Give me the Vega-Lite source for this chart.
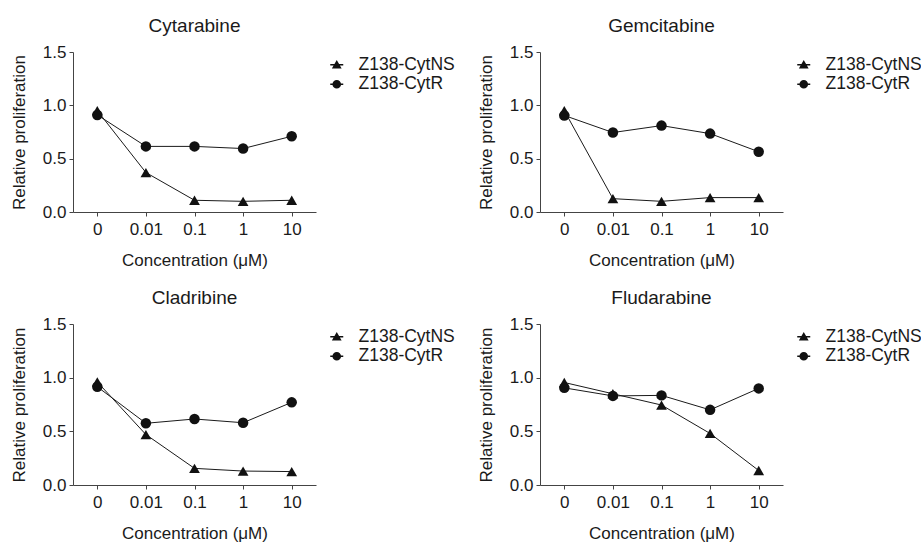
{
  "$schema": "https://vega.github.io/schema/vega-lite/v6.json",
  "padding": {"left": 10, "top": 17, "right": 5, "bottom": 2},
  "background": "white",
  "config": {
    "font": "Liberation Sans",
    "view": {"stroke": null},
    "axis": {
      "labelFont": "Liberation Sans",
      "titleFont": "Liberation Sans",
      "labelFontSize": 17,
      "titleFontSize": 17,
      "titleFontWeight": "normal",
      "labelColor": "#1a1a1a",
      "titleColor": "#1a1a1a",
      "domainColor": "#444444",
      "tickColor": "#444444",
      "tickSize": 4,
      "grid": false
    },
    "legend": {"labelFont": "Liberation Sans", "labelFontSize": 17.5, "labelColor": "#1a1a1a"},
    "title": {"font": "Liberation Sans", "fontSize": 19, "fontWeight": "normal", "color": "#1a1a1a"}
  },
  "data": {"values": [
    {"drug": "Cytarabine", "series": "Z138-CytNS", "conc": "0", "value": 0.95},
    {"drug": "Cytarabine", "series": "Z138-CytNS", "conc": "0.01", "value": 0.37},
    {"drug": "Cytarabine", "series": "Z138-CytNS", "conc": "0.1", "value": 0.11},
    {"drug": "Cytarabine", "series": "Z138-CytNS", "conc": "1", "value": 0.10},
    {"drug": "Cytarabine", "series": "Z138-CytNS", "conc": "10", "value": 0.11},
    {"drug": "Cytarabine", "series": "Z138-CytR", "conc": "0", "value": 0.91},
    {"drug": "Cytarabine", "series": "Z138-CytR", "conc": "0.01", "value": 0.615},
    {"drug": "Cytarabine", "series": "Z138-CytR", "conc": "0.1", "value": 0.615},
    {"drug": "Cytarabine", "series": "Z138-CytR", "conc": "1", "value": 0.595},
    {"drug": "Cytarabine", "series": "Z138-CytR", "conc": "10", "value": 0.71},
    {"drug": "Gemcitabine", "series": "Z138-CytNS", "conc": "0", "value": 0.95},
    {"drug": "Gemcitabine", "series": "Z138-CytNS", "conc": "0.01", "value": 0.125},
    {"drug": "Gemcitabine", "series": "Z138-CytNS", "conc": "0.1", "value": 0.10},
    {"drug": "Gemcitabine", "series": "Z138-CytNS", "conc": "1", "value": 0.135},
    {"drug": "Gemcitabine", "series": "Z138-CytNS", "conc": "10", "value": 0.135},
    {"drug": "Gemcitabine", "series": "Z138-CytR", "conc": "0", "value": 0.905},
    {"drug": "Gemcitabine", "series": "Z138-CytR", "conc": "0.01", "value": 0.745},
    {"drug": "Gemcitabine", "series": "Z138-CytR", "conc": "0.1", "value": 0.81},
    {"drug": "Gemcitabine", "series": "Z138-CytR", "conc": "1", "value": 0.735},
    {"drug": "Gemcitabine", "series": "Z138-CytR", "conc": "10", "value": 0.565},
    {"drug": "Cladribine", "series": "Z138-CytNS", "conc": "0", "value": 0.96},
    {"drug": "Cladribine", "series": "Z138-CytNS", "conc": "0.01", "value": 0.47},
    {"drug": "Cladribine", "series": "Z138-CytNS", "conc": "0.1", "value": 0.155},
    {"drug": "Cladribine", "series": "Z138-CytNS", "conc": "1", "value": 0.13},
    {"drug": "Cladribine", "series": "Z138-CytNS", "conc": "10", "value": 0.125},
    {"drug": "Cladribine", "series": "Z138-CytR", "conc": "0", "value": 0.915},
    {"drug": "Cladribine", "series": "Z138-CytR", "conc": "0.01", "value": 0.575},
    {"drug": "Cladribine", "series": "Z138-CytR", "conc": "0.1", "value": 0.615},
    {"drug": "Cladribine", "series": "Z138-CytR", "conc": "1", "value": 0.58},
    {"drug": "Cladribine", "series": "Z138-CytR", "conc": "10", "value": 0.77},
    {"drug": "Fludarabine", "series": "Z138-CytNS", "conc": "0", "value": 0.955},
    {"drug": "Fludarabine", "series": "Z138-CytNS", "conc": "0.01", "value": 0.85},
    {"drug": "Fludarabine", "series": "Z138-CytNS", "conc": "0.1", "value": 0.745},
    {"drug": "Fludarabine", "series": "Z138-CytNS", "conc": "1", "value": 0.48},
    {"drug": "Fludarabine", "series": "Z138-CytNS", "conc": "10", "value": 0.135},
    {"drug": "Fludarabine", "series": "Z138-CytR", "conc": "0", "value": 0.905},
    {"drug": "Fludarabine", "series": "Z138-CytR", "conc": "0.01", "value": 0.83},
    {"drug": "Fludarabine", "series": "Z138-CytR", "conc": "0.1", "value": 0.835},
    {"drug": "Fludarabine", "series": "Z138-CytR", "conc": "1", "value": 0.70},
    {"drug": "Fludarabine", "series": "Z138-CytR", "conc": "10", "value": 0.90}
  ]},
  "columns": 2,
  "spacing": {"row": 112, "column": 224},
  "bounds": "flush",
  "resolve": {"scale": {"shape": "independent"}, "legend": {"shape": "independent"}},
  "concat": [
    {
      "width": 243, "height": 160,
      "title": {"text": "Cytarabine", "baseline": "alphabetic", "offset": -8},
      "transform": [{"filter": "datum.drug == 'Cytarabine'"}],
      "encoding": {
        "x": {"field": "conc", "type": "ordinal", "sort": ["0", "0.01", "0.1", "1", "10"], "scale": {"type": "point", "padding": 0.5}, "axis": {"labelAngle": 0, "labelPadding": 5, "titlePadding": 15}, "title": "Concentration (μM)"},
        "y": {"field": "value", "type": "quantitative", "scale": {"domain": [0, 1.5], "nice": false}, "axis": {"values": [0, 0.5, 1, 1.5], "format": ".1f", "labelPadding": 3, "titlePadding": 14}, "title": "Relative proliferation"}
      },
      "layer": [
        {"mark": {"type": "line", "color": "#1a1a1a", "strokeWidth": 1}, "encoding": {"detail": {"field": "series"}}},
        {"transform": [{"filter": "datum.series == 'Z138-CytNS'"}], "mark": {"type": "point", "shape": "triangle-up", "filled": true, "size": 115, "opacity": 1, "color": "#111111"}},
        {"transform": [{"filter": "datum.series == 'Z138-CytR'"}], "mark": {"type": "point", "shape": "circle", "filled": true, "size": 110, "opacity": 1, "color": "#111111"}},
        {"mark": {"type": "point", "filled": true, "size": 110, "opacity": 0, "color": "#111111", "stroke": "#111111", "strokeWidth": 1.2},
         "encoding": {"shape": {"field": "series", "type": "nominal", "scale": {"domain": ["Z138-CytNS", "Z138-CytR"], "range": ["M-1,0H1M-0.55,0.45L0.55,0.45L0,-0.5Z", "M-1,0H1M0.55,0A0.55,0.55 0 1,1 -0.55,0A0.55,0.55 0 1,1 0.55,0Z"]},
           "legend": {"title": null, "orient": "none", "legendX": 255, "legendY": 4, "symbolSize": 169, "labelOffset": 13, "rowPadding": 0.5,
             "encode": {"symbols": {"update": {"stroke": {"value": "#111111"}, "strokeWidth": {"value": 1.2}, "fill": {"value": "#111111"}, "opacity": {"value": 1}}}}}}}}
      ]
    },
    {
      "width": 243, "height": 160,
      "title": {"text": "Gemcitabine", "baseline": "alphabetic", "offset": -8},
      "transform": [{"filter": "datum.drug == 'Gemcitabine'"}],
      "encoding": {
        "x": {"field": "conc", "type": "ordinal", "sort": ["0", "0.01", "0.1", "1", "10"], "scale": {"type": "point", "padding": 0.5}, "axis": {"labelAngle": 0, "labelPadding": 5, "titlePadding": 15}, "title": "Concentration (μM)"},
        "y": {"field": "value", "type": "quantitative", "scale": {"domain": [0, 1.5], "nice": false}, "axis": {"values": [0, 0.5, 1, 1.5], "format": ".1f", "labelPadding": 3, "titlePadding": 14}, "title": "Relative proliferation"}
      },
      "layer": [
        {"mark": {"type": "line", "color": "#1a1a1a", "strokeWidth": 1}, "encoding": {"detail": {"field": "series"}}},
        {"transform": [{"filter": "datum.series == 'Z138-CytNS'"}], "mark": {"type": "point", "shape": "triangle-up", "filled": true, "size": 115, "opacity": 1, "color": "#111111"}},
        {"transform": [{"filter": "datum.series == 'Z138-CytR'"}], "mark": {"type": "point", "shape": "circle", "filled": true, "size": 110, "opacity": 1, "color": "#111111"}},
        {"mark": {"type": "point", "filled": true, "size": 110, "opacity": 0, "color": "#111111", "stroke": "#111111", "strokeWidth": 1.2},
         "encoding": {"shape": {"field": "series", "type": "nominal", "scale": {"domain": ["Z138-CytNS", "Z138-CytR"], "range": ["M-1,0H1M-0.55,0.45L0.55,0.45L0,-0.5Z", "M-1,0H1M0.55,0A0.55,0.55 0 1,1 -0.55,0A0.55,0.55 0 1,1 0.55,0Z"]},
           "legend": {"title": null, "orient": "none", "legendX": 255, "legendY": 4, "symbolSize": 169, "labelOffset": 13, "rowPadding": 0.5,
             "encode": {"symbols": {"update": {"stroke": {"value": "#111111"}, "strokeWidth": {"value": 1.2}, "fill": {"value": "#111111"}, "opacity": {"value": 1}}}}}}}}
      ]
    },
    {
      "width": 243, "height": 161,
      "title": {"text": "Cladribine", "baseline": "alphabetic", "offset": -8},
      "transform": [{"filter": "datum.drug == 'Cladribine'"}],
      "encoding": {
        "x": {"field": "conc", "type": "ordinal", "sort": ["0", "0.01", "0.1", "1", "10"], "scale": {"type": "point", "padding": 0.5}, "axis": {"labelAngle": 0, "labelPadding": 5, "titlePadding": 15}, "title": "Concentration (μM)"},
        "y": {"field": "value", "type": "quantitative", "scale": {"domain": [0, 1.5], "nice": false}, "axis": {"values": [0, 0.5, 1, 1.5], "format": ".1f", "labelPadding": 3, "titlePadding": 14}, "title": "Relative proliferation"}
      },
      "layer": [
        {"mark": {"type": "line", "color": "#1a1a1a", "strokeWidth": 1}, "encoding": {"detail": {"field": "series"}}},
        {"transform": [{"filter": "datum.series == 'Z138-CytNS'"}], "mark": {"type": "point", "shape": "triangle-up", "filled": true, "size": 115, "opacity": 1, "color": "#111111"}},
        {"transform": [{"filter": "datum.series == 'Z138-CytR'"}], "mark": {"type": "point", "shape": "circle", "filled": true, "size": 110, "opacity": 1, "color": "#111111"}},
        {"mark": {"type": "point", "filled": true, "size": 110, "opacity": 0, "color": "#111111", "stroke": "#111111", "strokeWidth": 1.2},
         "encoding": {"shape": {"field": "series", "type": "nominal", "scale": {"domain": ["Z138-CytNS", "Z138-CytR"], "range": ["M-1,0H1M-0.55,0.45L0.55,0.45L0,-0.5Z", "M-1,0H1M0.55,0A0.55,0.55 0 1,1 -0.55,0A0.55,0.55 0 1,1 0.55,0Z"]},
           "legend": {"title": null, "orient": "none", "legendX": 255, "legendY": 4, "symbolSize": 169, "labelOffset": 13, "rowPadding": 0.5,
             "encode": {"symbols": {"update": {"stroke": {"value": "#111111"}, "strokeWidth": {"value": 1.2}, "fill": {"value": "#111111"}, "opacity": {"value": 1}}}}}}}}
      ]
    },
    {
      "width": 243, "height": 161,
      "title": {"text": "Fludarabine", "baseline": "alphabetic", "offset": -8},
      "transform": [{"filter": "datum.drug == 'Fludarabine'"}],
      "encoding": {
        "x": {"field": "conc", "type": "ordinal", "sort": ["0", "0.01", "0.1", "1", "10"], "scale": {"type": "point", "padding": 0.5}, "axis": {"labelAngle": 0, "labelPadding": 5, "titlePadding": 15}, "title": "Concentration (μM)"},
        "y": {"field": "value", "type": "quantitative", "scale": {"domain": [0, 1.5], "nice": false}, "axis": {"values": [0, 0.5, 1, 1.5], "format": ".1f", "labelPadding": 3, "titlePadding": 14}, "title": "Relative proliferation"}
      },
      "layer": [
        {"mark": {"type": "line", "color": "#1a1a1a", "strokeWidth": 1}, "encoding": {"detail": {"field": "series"}}},
        {"transform": [{"filter": "datum.series == 'Z138-CytNS'"}], "mark": {"type": "point", "shape": "triangle-up", "filled": true, "size": 115, "opacity": 1, "color": "#111111"}},
        {"transform": [{"filter": "datum.series == 'Z138-CytR'"}], "mark": {"type": "point", "shape": "circle", "filled": true, "size": 110, "opacity": 1, "color": "#111111"}},
        {"mark": {"type": "point", "filled": true, "size": 110, "opacity": 0, "color": "#111111", "stroke": "#111111", "strokeWidth": 1.2},
         "encoding": {"shape": {"field": "series", "type": "nominal", "scale": {"domain": ["Z138-CytNS", "Z138-CytR"], "range": ["M-1,0H1M-0.55,0.45L0.55,0.45L0,-0.5Z", "M-1,0H1M0.55,0A0.55,0.55 0 1,1 -0.55,0A0.55,0.55 0 1,1 0.55,0Z"]},
           "legend": {"title": null, "orient": "none", "legendX": 255, "legendY": 4, "symbolSize": 169, "labelOffset": 13, "rowPadding": 0.5,
             "encode": {"symbols": {"update": {"stroke": {"value": "#111111"}, "strokeWidth": {"value": 1.2}, "fill": {"value": "#111111"}, "opacity": {"value": 1}}}}}}}}
      ]
    }
  ]
}
